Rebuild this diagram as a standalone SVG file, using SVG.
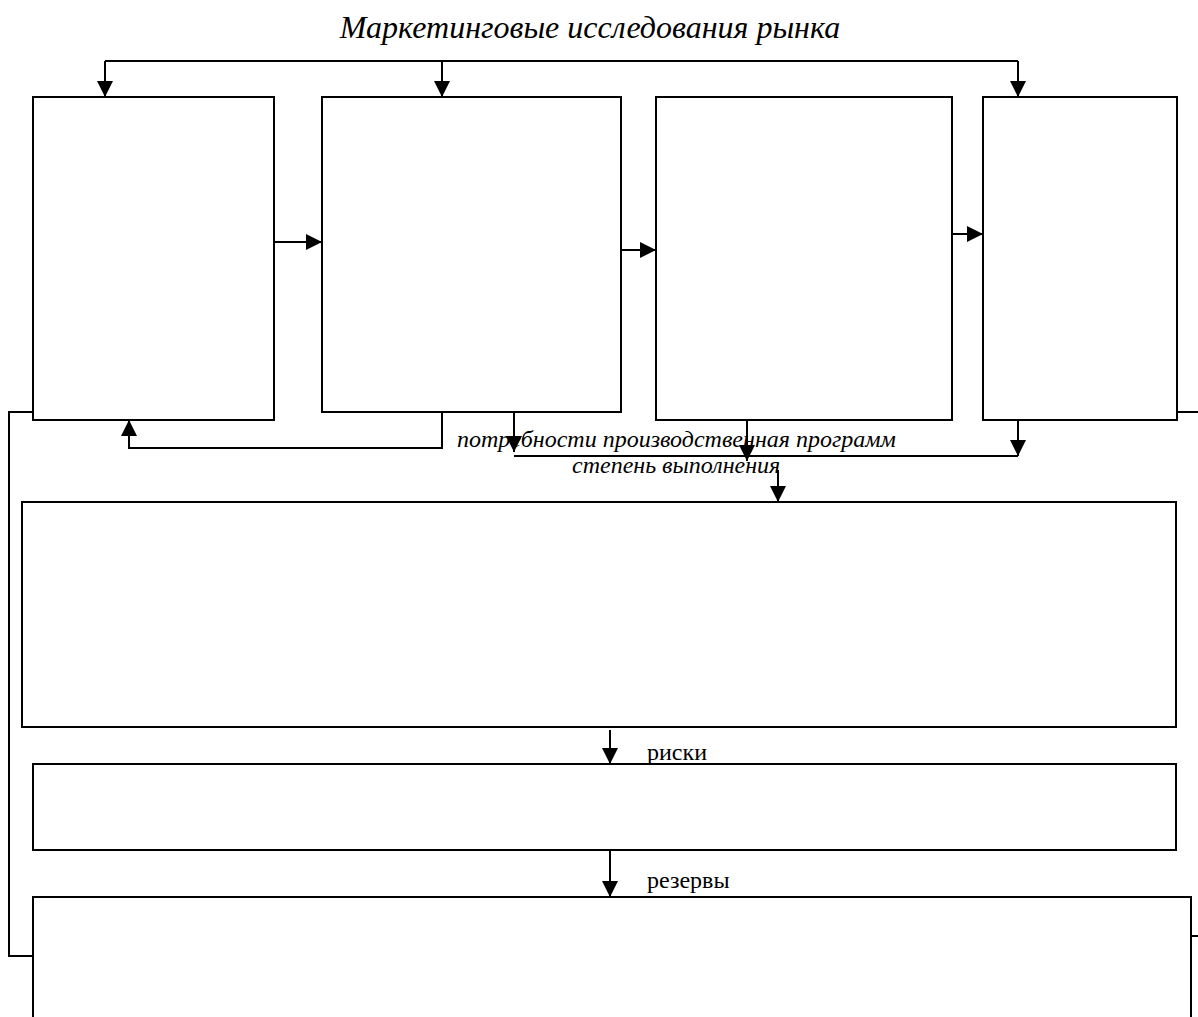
<svg xmlns="http://www.w3.org/2000/svg" width="1198" height="1017" viewBox="0 0 1198 1017">
  <style>
    .box { fill: #fff; stroke: #000; stroke-width: 2; }
    .wire { fill: none; stroke: #000; stroke-width: 2; }
    .arr { fill: none; stroke: #000; stroke-width: 2; marker-end: url(#head); }
    .it { font-family: "Liberation Serif", "Times New Roman", serif; font-style: italic; fill: #000; }
    .rm { font-family: "Liberation Serif", "Times New Roman", serif; fill: #000; font-size: 24px; }
  </style>
  <defs>
    <marker id="head" viewBox="0 0 16 16" refX="16" refY="8" markerWidth="16" markerHeight="16" markerUnits="userSpaceOnUse" orient="auto">
      <path d="M0,0 L16,8 L0,16 Z" fill="#000"/>
    </marker>
  </defs>
  <rect width="1198" height="1017" fill="#fff"/>

  <text class="it" x="590" y="38" font-size="32" text-anchor="middle">Маркетинговые исследования рынка</text>

  <g id="node-1"><rect class="box" x="33" y="97" width="241" height="323"/></g>
  <g id="node-2"><rect class="box" x="322" y="97" width="299" height="315"/></g>
  <g id="node-3"><rect class="box" x="656" y="97" width="296" height="323"/></g>
  <g id="node-4"><rect class="box" x="983" y="97" width="194" height="323"/></g>
  <g id="node-5"><rect class="box" x="22" y="502" width="1154" height="225"/></g>
  <g id="node-6"><rect class="box" x="33" y="764" width="1143" height="86"/></g>
  <g id="node-7"><rect class="box" x="33" y="897" width="1158" height="130"/></g>

  <g id="connectors">
    <!-- distribution bus from market research -->
    <path class="wire" d="M105,61 H1018"/>
    <path class="arr" d="M105,61 V97"/>
    <path class="arr" d="M442,61 V97"/>
    <path class="arr" d="M1018,61 V97"/>

    <!-- chain between the top blocks -->
    <path class="arr" d="M274,242 H322"/>
    <path class="arr" d="M621,250 H656"/>
    <path class="arr" d="M952,234 H983"/>

    <!-- feedback into block 1 -->
    <path class="arr" d="M442,412 V448 H129 V420"/>

    <!-- lower collection line -->
    <path class="arr" d="M514,412 V452"/>
    <path class="wire" d="M514,456 H1018"/>
    <path class="arr" d="M1018,420 V456"/>
    <path class="arr" d="M747,420 V461"/>
    <path class="arr" d="M778,470 V502"/>

    <!-- chain down through the wide blocks -->
    <path class="arr" d="M610,730 V764"/>
    <path class="arr" d="M610,850 V897"/>

    <!-- side loops -->
    <path class="wire" d="M33,412 H9 V956 H33"/>
    <path class="wire" d="M1177,412 H1198"/>
    <path class="wire" d="M1191,936 H1198"/>
  </g>

  <text class="it" x="457" y="447" font-size="24">потребности производственная программ</text>
  <text class="it" x="572" y="473" font-size="24">степень выполнения</text>
  <text class="rm" x="647" y="760">риски</text>
  <text class="rm" x="647" y="888">резервы</text>
</svg>
